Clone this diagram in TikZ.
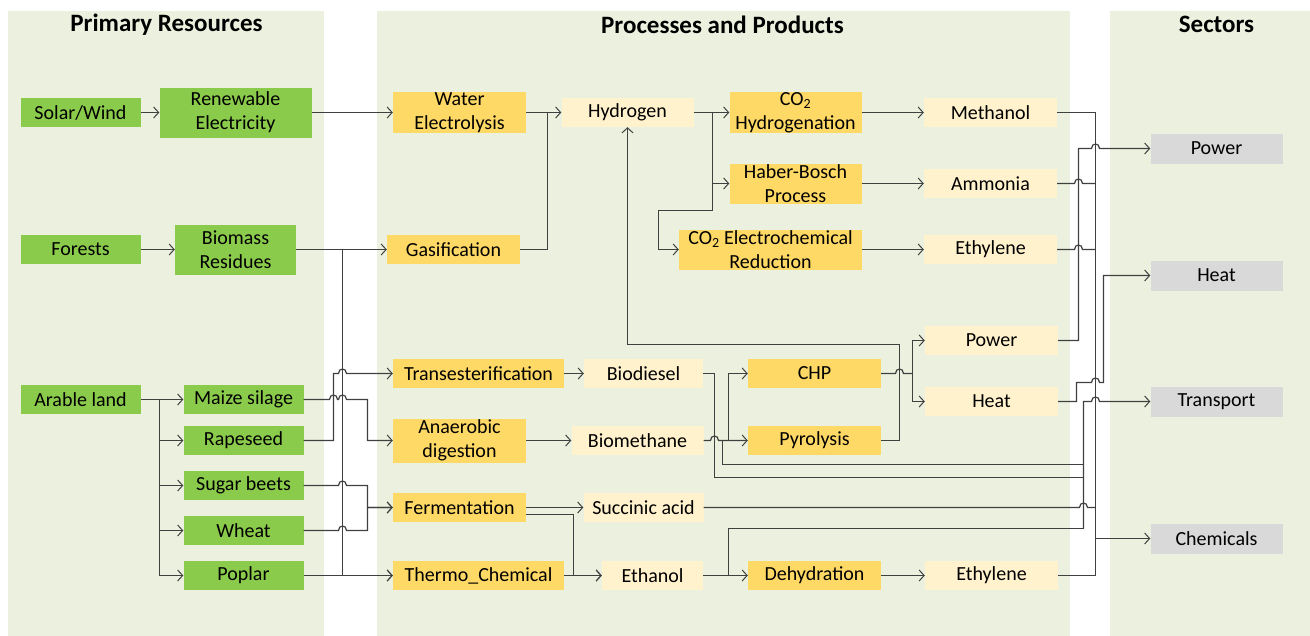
\documentclass[tikz,border=0pt]{standalone}
\usepackage{fontspec}
\setmainfont{Carlito}
\usetikzlibrary{arrows.meta}
\definecolor{panelgreen}{HTML}{EBF1DE}
\definecolor{resgreen}{HTML}{8BCB4C}
\definecolor{procorange}{HTML}{FFD966}
\definecolor{prodyellow}{HTML}{FFF2CC}
\definecolor{sectgray}{HTML}{D9D9D9}
\definecolor{conngray}{HTML}{404040}
\newcommand\hopx[2]{-- ({#1-4},#2) .. controls ({#1-4},{#2-6}) and ({#1+4},{#2-6}) .. ({#1+4},#2)}
\begin{document}
\begin{tikzpicture}[x=1pt,y=-1pt,
  box/.style={inner sep=0pt,minimum height=29pt,align=center,font=\fontsize{20}{24}\selectfont},
  res/.style={box,fill=resgreen},
  proc/.style={box,fill=procorange},
  prod/.style={box,fill=prodyellow},
  sect/.style={box,fill=sectgray,minimum height=30pt},
  title/.style={font=\bfseries\fontsize{25}{30}\selectfont},
  conn/.style={draw=conngray,line width=1.2pt},
  >={Straight Barb[length=5pt,width=11pt,line width=1pt]}]
\useasboundingbox (-0.5,-0.5) rectangle (1309.5,634.5);
\fill[panelgreen] (8,10) rectangle (323,635);
\fill[panelgreen] (376,10) rectangle (1069,635);
\fill[panelgreen] (1109,10) rectangle (1310,635);
\node[title] (tres) at (166,24) {Primary Resources};
\node[title] (tpro) at (722,24) {Processes and Products};
\node[title] (tsec) at (1216,24) {Sectors};

\node[res,minimum width=120pt] (sol) at (80,112) {Solar/Wind};
\node[res,minimum width=152pt,minimum height=50pt] (ren) at (235,112) {Renewable\\Electricity};
\node[res,minimum width=120pt] (for) at (80,249) {Forests};
\node[res,minimum width=121pt,minimum height=50pt] (bio) at (235,249) {Biomass\\Residues};
\node[res,minimum width=120pt] (ara) at (80,399) {Arable land};
\node[res,minimum width=120pt] (mai) at (243,399) {Maize silage};
\node[res,minimum width=120pt] (rap) at (243,440) {Rapeseed};
\node[res,minimum width=120pt] (sug) at (243,485) {Sugar beets};
\node[res,minimum width=120pt] (whe) at (243,530) {Wheat};
\node[res,minimum width=120pt] (pop) at (243,575) {Poplar};

\node[proc,minimum width=133pt,minimum height=40pt] (wat) at (459,112) {Water\\Electrolysis};
\node[proc,minimum width=133pt] (gas) at (453,249) {Gasification};
\node[proc,minimum width=171pt] (tes) at (478,373) {Transesterification};
\node[proc,minimum width=133pt,minimum height=44pt] (ana) at (459,440) {Anaerobic\\digestion};
\node[proc,minimum width=133pt] (fer) at (459,507) {Fermentation};
\node[proc,minimum width=171pt] (thc) at (478,575) {Thermo\_Chemical};
\node[proc,minimum width=132pt,minimum height=40pt] (coh) at (795,112) {CO\textsubscript{2}\\Hydrogenation};
\node[proc,minimum width=132pt,minimum height=40pt] (hab) at (795,183) {Haber-Bosch\\Process};
\node[proc,minimum width=183pt,minimum height=40pt] (coe) at (770,249) {CO\textsubscript{2} Electrochemical\\Reduction};
\node[proc,minimum width=133pt] (chp) at (814,373) {CHP};
\node[proc,minimum width=133pt] (pyr) at (814,440) {Pyrolysis};
\node[proc,minimum width=133pt] (deh) at (814,575) {Dehydration};

\node[prod,minimum width=132pt] (hyd) at (627,112) {Hydrogen};
\node[prod,minimum width=133pt] (met) at (990,112) {Methanol};
\node[prod,minimum width=133pt] (amm) at (990,183) {Ammonia};
\node[prod,minimum width=133pt] (ety) at (990,249) {Ethylene};
\node[prod,minimum width=133pt] (pow) at (991,340) {Power};
\node[prod,minimum width=133pt] (hea) at (991,401) {Heat};
\node[prod,minimum width=133pt] (etz) at (991,575) {Ethylene};
\node[prod,minimum width=119pt] (bdi) at (643,373) {Biodiesel};
\node[prod,minimum width=132pt] (bme) at (637,440) {Biomethane};
\node[prod,minimum width=120pt] (suc) at (643,507) {Succinic acid};
\node[prod,minimum width=101pt] (eol) at (652,575) {Ethanol};

\node[sect,minimum width=132pt] (spo) at (1216,148) {Power};
\node[sect,minimum width=132pt] (she) at (1216,275) {Heat};
\node[sect,minimum width=132pt] (str) at (1216,401) {Transport};
\node[sect,minimum width=132pt] (sch) at (1216,538) {Chemicals};

\coordinate (ja) at (159,399);
\coordinate (jb) at (342,249);
\coordinate (jh) at (547,112);
\coordinate (jk) at (712,112);
\coordinate (jc) at (912,373);
\coordinate (jy) at (728,440);
\coordinate (jz) at (722,440);
\coordinate (je) at (728,575);
\coordinate (jt) at (1083,401);
\coordinate (jm) at (1095,538);

\draw[conn,->] (sol) -- (ren);
\draw[conn,->] (ren) -- (wat);
\draw[conn,->] (for) -- (bio);
\draw[conn,->] (bio) -- (gas);
\draw[conn,->] (bio.east) -- (jb) |- (thc.west);
\draw[conn,->] (ara) -- (mai);
\draw[conn,->] (ja) |- (pop.west);
\foreach \n in {rap,sug,whe} \draw[conn,->] (ja |- \n.west) -- (\n.west);
\draw[conn,->] (pop) -- (thc);
\draw[conn,->] (mai.east) \hopx{333}{399} \hopx{342}{399} -- (367,399) |- (ana.west);
\draw[conn,->] (rap.east) -- (333,440) -- (333,373) \hopx{342}{373} -- (tes.west);
\draw[conn,->] (sug.east) \hopx{342}{485} -- (367,485) |- (fer.west);
\draw[conn,->] (whe.east) \hopx{342}{530} -- (367,530) |- (fer.west);

\draw[conn,->] (wat) -- (hyd);
\draw[conn] (gas.east) -| (jh);
\draw[conn,->] (tes) -- (bdi);
\draw[conn,->] (ana) -- (bme);
\draw[conn,->] (fer) -- (suc);
\draw[conn,->] ([shift={(0,7)}]fer.east) -| (573,575) -- (eol.west);
\draw[conn,->] (thc) -- (eol);

\draw[conn,->] (hyd) -- (coh);
\draw[conn,->] (jk) |- (hab.west);
\draw[conn,->] (jk) -- (712,210) -- (658,210) |- (coe.west);
\draw[conn,->] (coh) -- (met);
\draw[conn,->] (hab) -- (amm);
\draw[conn,->] (coe) -- (ety);

\draw[conn] (bdi.east) -- (714,373) |- (jt |- 0,477);
\draw[conn,->] (bme.east) \hopx{714}{440} -- (pyr.west);
\draw[conn,->] (jy) |- (chp.west);
\draw[conn] (jz) |- (jt |- 0,464);
\draw[conn] (chp.east) \hopx{899}{373} -- (jc);
\draw[conn,->] (jc) |- (pow.west);
\draw[conn,->] (jc) |- (hea.west);
\draw[conn,->] (pyr.east) -- (899,440) -- (899,344) -| (hyd.south);
\draw[conn,->] (eol) -- (deh);
\draw[conn] (je) |- (jt |- 0,528);
\draw[conn,->] (deh) -- (etz);

\draw[conn] (met.east) -| (1095,575) -- (etz.east);
\draw[conn] (amm.east) \hopx{1078}{183} -- (1095,183);
\draw[conn] (ety.east) \hopx{1078}{249} -- (1095,249);
\draw[conn] (suc.east) \hopx{1083}{507} -- (1095,507);
\draw[conn,->] (jm) -- (sch.west);
\draw[conn,->] (pow.east) -| (1078,148) \hopx{1095}{148} -- (spo.west);
\draw[conn,->] (hea.east) -- (1076,401) -- (1076,382) \hopx{1095}{382} -- (1103,382) |- (she.west);
\draw[conn,->] (jt |- 0,528) -- (jt) \hopx{1095}{401} -- (str.west);
\end{tikzpicture}
\end{document}
